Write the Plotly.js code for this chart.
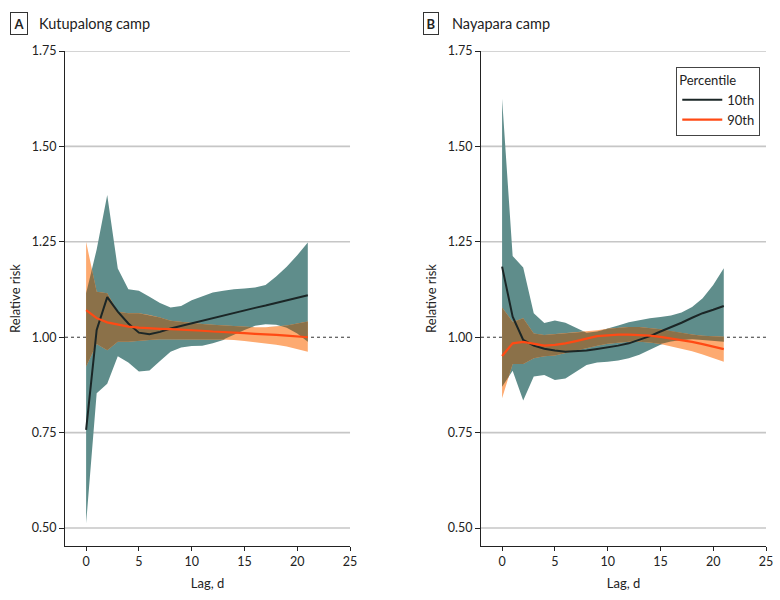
<!DOCTYPE html>
<html>
<head>
<meta charset="utf-8">
<script src="https://cdn.plot.ly/plotly-3.0.1.min.js"></script>
<style>
  html, body { margin: 0; padding: 0; background: #fff; }
  #chart { width: 780px; height: 600px; }
</style>
</head>
<body>
<div id="chart"></div>
<script>
// Lag in days
const lags = [0,1,2,3,4,5,6,7,8,9,10,11,12,13,14,15,16,17,18,19,20,21];

// Kutupalong camp: relative risk at the 10th and 90th percentile, with 95% CI
const kutP10   = [0.757,1.019,1.105,1.067,1.036,1.012,1.008,1.014,1.023,1.030,1.037,1.043,1.050,1.057,1.063,1.070,1.077,1.083,1.090,1.097,1.103,1.110];
const kutP10Lo = [0.512,0.853,0.878,0.950,0.934,0.910,0.913,0.938,0.962,0.973,0.977,0.978,0.984,0.993,1.006,1.019,1.030,1.034,1.033,1.025,1.010,0.988];
const kutP10Hi = [1.115,1.230,1.373,1.180,1.126,1.122,1.106,1.090,1.078,1.082,1.097,1.108,1.117,1.122,1.126,1.128,1.130,1.137,1.159,1.185,1.215,1.248];
const kutP90   = [1.071,1.050,1.039,1.033,1.028,1.025,1.023,1.022,1.021,1.020,1.018,1.017,1.015,1.014,1.012,1.011,1.009,1.008,1.006,1.004,1.002,1.000];
const kutP90Lo = [0.923,0.982,0.966,0.988,0.988,0.991,0.993,0.995,0.995,0.995,0.994,0.994,0.994,0.994,0.993,0.990,0.987,0.984,0.980,0.976,0.970,0.962];
const kutP90Hi = [1.250,1.119,1.115,1.067,1.063,1.063,1.058,1.052,1.043,1.040,1.037,1.035,1.033,1.031,1.029,1.027,1.026,1.026,1.028,1.031,1.036,1.041];

// Nayapara camp
const nayP10   = [1.185,1.054,0.993,0.978,0.970,0.965,0.962,0.963,0.965,0.969,0.973,0.978,0.984,0.993,1.003,1.015,1.026,1.038,1.051,1.063,1.072,1.082];
const nayP10Lo = [0.870,0.912,0.834,0.897,0.901,0.888,0.892,0.910,0.927,0.934,0.936,0.939,0.945,0.954,0.967,0.980,0.989,0.993,0.995,0.993,0.991,0.988];
const nayP10Hi = [1.625,1.213,1.183,1.063,1.037,1.044,1.038,1.024,1.012,1.015,1.022,1.031,1.039,1.045,1.050,1.053,1.057,1.065,1.079,1.102,1.137,1.181];
const nayP90   = [0.951,0.984,0.988,0.983,0.978,0.980,0.984,0.990,0.997,1.003,1.005,1.007,1.007,1.006,1.004,1.001,0.997,0.992,0.988,0.982,0.976,0.969];
const nayP90Lo = [0.840,0.930,0.930,0.945,0.950,0.952,0.958,0.965,0.972,0.978,0.983,0.986,0.988,0.988,0.986,0.982,0.977,0.970,0.963,0.955,0.946,0.936];
const nayP90Hi = [1.078,1.040,1.050,1.010,1.006,1.008,1.010,1.012,1.015,1.018,1.022,1.025,1.027,1.027,1.025,1.021,1.016,1.011,1.007,1.004,1.002,1.001];

const seriesNames = ['10th', '90th'];
const tickY = [0.50, 0.75, 1.00, 1.25, 1.50, 1.75];
const tickX = [0, 5, 10, 15, 20, 25];

const C = {
  teal: '#5f8d8b',
  orangeBand: '#fdaa70',
  both: '#8b7149',
  line10: '#1b2626',
  line90: '#ff4a14',
  grid: '#c6c6c6',
  ink: '#222222'
};
const FONT = 'Lato, "Noto Sans", "Open Sans", sans-serif';

// Closed polygon between a lower and an upper curve
function band(xs, lo, hi) {
  return {
    x: xs.concat(xs.slice().reverse()),
    y: hi.concat(lo.slice().reverse())
  };
}

// Region shared by two bands (piecewise linear), with crossing points inserted
function sharedBand(xs, aLo, aHi, bLo, bHi) {
  const X = [], LO = [], HI = [];
  const curves = [aLo, aHi, bLo, bHi];
  const evalAt = (i, t) => {
    const v = curves.map(c => c[i] + (c[i + 1] - c[i]) * t);
    const hi = Math.min(v[1], v[3]);
    const lo = Math.min(Math.max(v[0], v[2]), hi);
    X.push(xs[i] + (xs[i + 1] - xs[i]) * t);
    LO.push(lo);
    HI.push(hi);
  };
  for (let i = 0; i < xs.length - 1; i++) {
    const ts = [0];
    for (let p = 0; p < 4; p++) {
      for (let q = p + 1; q < 4; q++) {
        const d0 = curves[p][i] - curves[q][i];
        const d1 = curves[p][i + 1] - curves[q][i + 1];
        if (d0 * d1 < 0) ts.push(d0 / (d0 - d1));
      }
    }
    ts.sort((a, b) => a - b);
    ts.forEach(t => evalAt(i, t));
    if (i === xs.length - 2) evalAt(i, 1);
  }
  return band(X, LO, HI);
}

function panelTraces(xa, ya, p10, p10Lo, p10Hi, p90, p90Lo, p90Hi, legend) {
  const fillTrace = (poly, color) => ({
    x: poly.x, y: poly.y, xaxis: xa, yaxis: ya,
    type: 'scatter', mode: 'lines', fill: 'toself', fillcolor: color,
    line: { width: 0, color: color }, hoverinfo: 'skip', showlegend: false
  });
  return [
    fillTrace(band(lags, p10Lo, p10Hi), C.teal),
    fillTrace(band(lags, p90Lo, p90Hi), C.orangeBand),
    fillTrace(sharedBand(lags, p10Lo, p10Hi, p90Lo, p90Hi), C.both),
    {
      x: lags, y: p10, xaxis: xa, yaxis: ya, type: 'scatter', mode: 'lines',
      name: seriesNames[0], line: { color: C.line10, width: 2 }, showlegend: legend
    },
    {
      x: lags, y: p90, xaxis: xa, yaxis: ya, type: 'scatter', mode: 'lines',
      name: seriesNames[1], line: { color: C.line90, width: 2.2 }, showlegend: legend
    }
  ];
}

const data = []
  .concat(panelTraces('x', 'y', kutP10, kutP10Lo, kutP10Hi, kutP90, kutP90Lo, kutP90Hi, true))
  .concat(panelTraces('x2', 'y2', nayP10, nayP10Lo, nayP10Hi, nayP90, nayP90Lo, nayP90Hi, false));

function xAxis(domain, anchor) {
  return {
    domain: domain, anchor: anchor, range: [-2, 25],
    tickvals: tickX, ticktext: tickX.map(String),
    showgrid: false, zeroline: false,
    showline: true, linecolor: C.ink, linewidth: 1,
    ticks: 'outside', ticklen: 4, tickcolor: C.ink, tickwidth: 1,
    tickfont: { family: FONT, size: 12.5, color: C.ink },
    title: { text: 'Lag, d', font: { family: FONT, size: 13, color: C.ink }, standoff: 10 }
  };
}
function yAxis(anchor) {
  return {
    anchor: anchor, range: [0.453, 1.75],
    tickvals: tickY, ticktext: tickY.map(v => v.toFixed(2)),
    showgrid: false, zeroline: false,
    showline: true, linecolor: C.ink, linewidth: 1,
    ticks: 'outside', ticklen: 5, tickcolor: C.ink, tickwidth: 1,
    tickfont: { family: FONT, size: 12.5, color: C.ink },
    title: { text: 'Relative risk', font: { family: FONT, size: 13, color: C.ink }, standoff: 8 }
  };
}

// Horizontal reference lines: light grid plus a dotted line at RR = 1
const shapes = [];
[['x', 'y'], ['x2', 'y2']].forEach(([xa, ya]) => {
  tickY.forEach(v => {
    const isOne = v === 1;
    shapes.push({
      type: 'line', layer: 'below',
      xref: xa + ' domain', yref: ya,
      x0: 0, x1: 1, y0: v, y1: v,
      line: isOne ? { color: '#333', width: 1, dash: 'dot' } : { color: C.grid, width: 1.6 }
    });
  });
});

function panelLabel(letter, xBox, xText, title) {
  return [
    {
      xref: 'paper', yref: 'paper', x: xBox, y: 1.0556, xanchor: 'left', yanchor: 'middle',
      text: '<b>' + letter + '</b>', showarrow: false,
      font: { family: FONT, size: 13, color: C.ink },
      bordercolor: '#333', borderwidth: 1, borderpad: 2.5, bgcolor: '#fff'
    },
    {
      xref: 'paper', yref: 'paper', x: xText, y: 1.0556, xanchor: 'left', yanchor: 'middle',
      text: title, showarrow: false,
      font: { family: FONT, size: 14.5, color: C.ink }
    }
  ];
}

const layout = {
  width: 780, height: 600,
  margin: { l: 65, r: 14, t: 51, b: 54 },
  paper_bgcolor: '#fff', plot_bgcolor: '#fff',
  font: { family: FONT, color: C.ink },
  xaxis: xAxis([0, 0.4066], 'y'),
  yaxis: yAxis('x'),
  xaxis2: xAxis([0.5934, 1], 'y2'),
  yaxis2: yAxis('x2'),
  shapes: shapes,
  annotations: []
    .concat(panelLabel('A', -0.0785, -0.0399, 'Kutupalong camp'))
    .concat(panelLabel('B', 0.5107, 0.5492, 'Nayapara camp')),
  legend: {
    title: { text: 'Percentile', font: { family: FONT, size: 13, color: C.ink } },
    font: { family: FONT, size: 13, color: C.ink },
    x: 0.872, y: 0.968, xanchor: 'left', yanchor: 'top',
    xref: 'paper', yref: 'paper',
    bordercolor: '#444', borderwidth: 1, bgcolor: '#fff',
    tracegroupgap: 0, itemwidth: 40
  },
  showlegend: true
};

Plotly.newPlot('chart', data, layout, { displayModeBar: false, staticPlot: true });
</script>
</body>
</html>
